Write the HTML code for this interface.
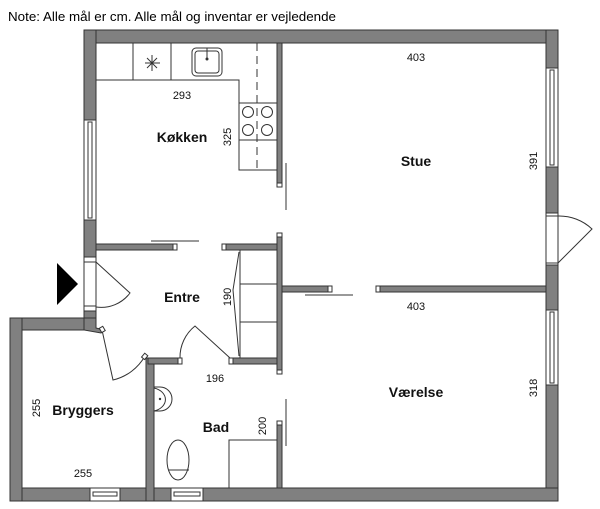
<!DOCTYPE html>
<html><head><meta charset="utf-8"><style>
html,body{margin:0;padding:0;background:#fff;}
svg{display:block;font-family:"Liberation Sans",sans-serif;}
.w{fill:#808080;stroke:#333;stroke-width:1}
.l{fill:none;stroke:#333;stroke-width:1}
.win{fill:#fff;stroke:#333;stroke-width:1}
.t{font-size:11px;fill:#111;text-anchor:middle}
.b{font-size:14px;font-weight:bold;fill:#111;text-anchor:middle}
</style></head><body>
<svg width="600" height="509" viewBox="0 0 600 509" xmlns="http://www.w3.org/2000/svg">
<text x="8" y="21" font-size="13" textLength="328" lengthAdjust="spacingAndGlyphs">Note: Alle mål er cm. Alle mål og inventar er vejledende</text>

<!-- outer walls -->
<rect class="w" x="84" y="30" width="474" height="13"/>
<rect class="w" x="546" y="30" width="12" height="471"/>
<rect class="w" x="10" y="488" width="548" height="13"/>
<rect class="w" x="84" y="30" width="12" height="288"/>
<rect class="w" x="10" y="318" width="86" height="12"/>
<rect class="w" x="10" y="318" width="12" height="183"/>
<rect class="w" x="146" y="358" width="8" height="143"/>

<!-- interior walls -->
<rect class="w" x="277" y="43" width="5" height="143"/>
<rect class="win" x="277" y="183" width="5" height="4"/>
<rect class="w" x="277" y="235" width="5" height="137"/>
<rect class="win" x="277" y="233" width="5" height="4"/>
<rect class="win" x="277" y="370" width="5" height="4"/>
<rect class="w" x="277" y="423" width="5" height="65"/>
<rect class="win" x="277" y="421" width="5" height="4"/>
<rect class="w" x="96" y="244" width="79" height="6"/>
<rect class="win" x="173" y="244" width="4" height="6"/>
<rect class="w" x="223" y="244" width="54" height="6"/>
<rect class="win" x="222" y="244" width="4" height="6"/>
<rect class="w" x="282" y="286" width="48" height="6"/>
<rect class="win" x="328" y="286" width="4" height="6"/>
<rect class="w" x="377" y="286" width="169" height="6"/>
<rect class="win" x="376" y="286" width="4" height="6"/>
<rect class="w" x="148" y="358" width="32" height="6"/>
<rect class="win" x="178" y="358" width="4" height="6"/>
<rect class="w" x="230" y="358" width="47" height="6"/>
<rect class="win" x="229" y="358" width="4" height="6"/>

<!-- windows -->
<rect class="win" x="84" y="120" width="12" height="100"/><rect class="l" x="88" y="122" width="4" height="96"/>
<rect class="win" x="546" y="68" width="12" height="99"/><rect class="l" x="550" y="70" width="4" height="95"/>
<rect class="win" x="546" y="310" width="12" height="75"/><rect class="l" x="550" y="312" width="4" height="71"/>
<rect class="win" x="90" y="488" width="30" height="13"/><rect class="l" x="93" y="492" width="24" height="4"/>
<rect class="win" x="171" y="488" width="32" height="13"/><rect class="l" x="174" y="492" width="26" height="4"/>
<!-- entrance opening -->
<rect class="win" x="84" y="257" width="12" height="54"/>
<line class="l" x1="84" y1="262" x2="96" y2="262"/><line class="l" x1="84" y1="306" x2="96" y2="306"/>
<path class="l" d="M96 262 L130 293 A36 36 0 0 1 96 307"/>
<polygon points="57,263 57,305 78,284" fill="#000"/>
<!-- stue outer door -->
<rect class="win" x="546" y="213" width="12" height="52"/>
<line class="l" x1="546" y1="216" x2="558" y2="216"/><line class="l" x1="546" y1="263" x2="558" y2="263"/>
<path class="l" d="M558 263 L592 229 A48 48 0 0 0 558 216"/>

<!-- bryggers corner & door -->
<polygon class="w" points="84,318 96,318 96,328 104,330 101,333 84,330"/>
<path class="l" d="M102 330 L113 380 A50 50 0 0 0 145 356"/>
<rect class="win" x="100" y="327" width="4" height="5" transform="rotate(-30 102 329)"/>
<rect class="win" x="143" y="354" width="4" height="5" transform="rotate(40 145 356)"/>

<!-- door swing lines -->
<line class="l" x1="151" y1="241" x2="199" y2="241"/>
<line class="l" x1="305" y1="295" x2="353" y2="295"/>
<line class="l" x1="286" y1="163" x2="286" y2="210"/>
<line class="l" x1="286" y1="399" x2="286" y2="446"/>
<path class="l" d="M230 358 L195 326 A40 40 0 0 0 180 358"/>

<!-- wardrobe -->
<rect class="l" x="240" y="250" width="37" height="108"/>
<line class="l" x1="240" y1="284" x2="277" y2="284"/>
<line class="l" x1="240" y1="322" x2="277" y2="322"/>
<path class="l" d="M239 252 L233 290 L239 356"/>

<!-- kitchen -->
<path class="l" d="M96 80 L239 80 L239 170 L277 170"/>
<line class="l" x1="133" y1="43" x2="133" y2="80"/>
<line class="l" x1="171" y1="43" x2="171" y2="80"/>
<line class="l" x1="239" y1="103" x2="277" y2="103"/>
<line class="l" x1="239" y1="140" x2="277" y2="140"/>
<line class="l" x1="257" y1="43" x2="257" y2="170" stroke-dasharray="8,5"/>
<circle class="l" cx="248" cy="112" r="5.5"/><circle class="l" cx="267" cy="112" r="5.5"/>
<circle class="l" cx="248" cy="130" r="5.5"/><circle class="l" cx="267" cy="130" r="5.5"/>
<rect class="l" x="192" y="48" width="30" height="28" rx="4"/>
<rect class="l" x="195" y="51" width="24" height="22" rx="3"/>
<line class="l" x1="207" y1="48" x2="207" y2="58"/><circle cx="207" cy="59" r="1.5" fill="#333"/>
<g stroke="#333" stroke-width="1">
<line x1="145" y1="63" x2="160" y2="63"/><line x1="152" y1="55" x2="152" y2="71"/>
<line x1="147" y1="58" x2="157" y2="68"/><line x1="157" y1="58" x2="147" y2="68"/></g>

<!-- bad -->
<path class="l" d="M154 388 A16 12 0 0 1 154 411 Z" transform="translate(0,0)"/>
<path class="l" d="M154 387 L160 387 A12 12 0 0 1 160 411 L154 411"/>
<circle cx="160" cy="399" r="1.2" fill="#333"/>
<ellipse class="l" cx="178" cy="460" rx="11" ry="20"/>
<line class="l" x1="168" y1="470" x2="189" y2="470"/>
<rect class="l" x="229" y="440" width="48" height="48"/>

<!-- labels -->
<text class="b" x="182" y="142">Køkken</text>
<text class="b" x="416" y="166">Stue</text>
<text class="b" x="182" y="302">Entre</text>
<text class="b" x="416" y="397">Værelse</text>
<text class="b" x="83" y="415">Bryggers</text>
<text class="b" x="216" y="432">Bad</text>
<text class="t" x="182" y="99">293</text>
<text class="t" x="416" y="61">403</text>
<text class="t" x="416" y="310">403</text>
<text class="t" x="215" y="382">196</text>
<text class="t" x="83" y="477">255</text>
<text class="t" transform="translate(231,137) rotate(-90)">325</text>
<text class="t" transform="translate(537,161) rotate(-90)">391</text>
<text class="t" transform="translate(537,388) rotate(-90)">318</text>
<text class="t" transform="translate(231,297) rotate(-90)">190</text>
<text class="t" transform="translate(40,408) rotate(-90)">255</text>
<text class="t" transform="translate(266,426) rotate(-90)">200</text>
</svg>
</body></html>
